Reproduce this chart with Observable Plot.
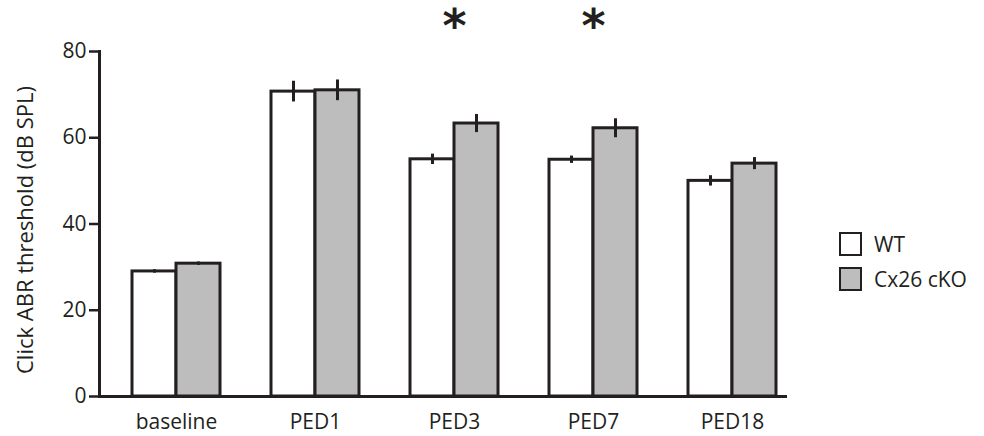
<!DOCTYPE html>
<html>
<head>
<meta charset="utf-8">
<script src="https://cdn.jsdelivr.net/npm/d3@7"></script>
<script src="https://cdn.jsdelivr.net/npm/@observablehq/plot@0.6"></script>
<style>
  html, body { margin: 0; padding: 0; background: #fff; }
  #wrap { position: relative; width: 984px; height: 436px; font-family: "Open Sans", sans-serif; color: #231f20; }
  #legend { position: absolute; left: 839px; top: 232px; }
  .item { display: flex; align-items: center; height: 24px; margin-bottom: 11px; font-size: 21px; }
  .sw { width: 19px; height: 20px; border: 2.5px solid #231f20; margin-right: 12px; box-sizing: content-box; }
</style>
</head>
<body>
<div id="wrap"><div id="legend"></div></div>
<script>
const categories = ["baseline", "PED1", "PED3", "PED7", "PED18"];
const series = ["WT", "Cx26 cKO"];
const wtMean = [29.0, 70.7, 55.0, 54.9, 50.0];
const wtSem  = [0.4, 2.4, 1.2, 0.85, 1.2];
const koMean = [30.8, 71.0, 63.3, 62.2, 54.0];
const koSem  = [0.4, 2.4, 2.1, 2.2, 1.4];
const significant = ["PED3", "PED7"];
const yTicks = [0, 20, 40, 60, 80];
const yLabel = "Click ABR threshold (dB SPL)";
const colors = {"WT": "#ffffff", "Cx26 cKO": "#bdbdbd"};

const wt = categories.map((c, i) => ({cat: c, v: wtMean[i], e: wtSem[i]}));
const ko = categories.map((c, i) => ({cat: c, v: koMean[i], e: koSem[i]}));
const ink = "#231f20";
const half = 44;

const chart = Plot.plot({
  width: 984,
  height: 436,
  marginLeft: 99,
  marginRight: 197,
  marginTop: 51,
  marginBottom: 40,
  style: {fontFamily: "Open Sans, sans-serif", color: ink, background: "transparent"},
  x: {domain: categories, range: [78.4, 829.2], padding: 0.37, axis: null},
  y: {domain: [0, 80], axis: null},
  marks: [
    Plot.barY(wt, {x: "cat", y: "v", fill: colors["WT"], stroke: ink, strokeWidth: 3, insetRight: half}),
    Plot.barY(ko, {x: "cat", y: "v", fill: colors["Cx26 cKO"], stroke: ink, strokeWidth: 3, insetLeft: half}),
    Plot.ruleX(wt, {x: "cat", y1: d => d.v - d.e, y2: d => d.v + d.e, dx: -half / 2, stroke: ink, strokeWidth: 3}),
    Plot.ruleX(ko, {x: "cat", y1: d => d.v - d.e, y2: d => d.v + d.e, dx: half / 2, stroke: ink, strokeWidth: 3}),
    Plot.ruleY([0], {stroke: ink, strokeWidth: 3}),
    Plot.frame({anchor: "left", stroke: ink, strokeWidth: 3}),
    Plot.axisY({ticks: yTicks, tickSize: 10, tickPadding: 3, fontSize: 21, strokeWidth: 2.5, label: null}),
    Plot.axisX({tickSize: 0, tickPadding: 18, fontSize: 21, label: null}),
    Plot.text([yLabel], {frameAnchor: "left", text: d => d, rotate: -90, textAnchor: "middle", dx: -74, dy: 6, fontSize: 22, fill: ink}),
    Plot.text(significant, {x: d => d, y: 87, text: () => "*", fontSize: 46, fontWeight: "bold", dy: 6, fill: ink, fontFamily: "DejaVu Sans"})
  ]
});
document.getElementById("wrap").prepend(chart);

const legend = d3.select("#legend");
series.forEach(s => {
  const it = legend.append("div").attr("class", "item");
  it.append("div").attr("class", "sw").style("background", colors[s]);
  it.append("span").text(s);
});
</script>
</body>
</html>
